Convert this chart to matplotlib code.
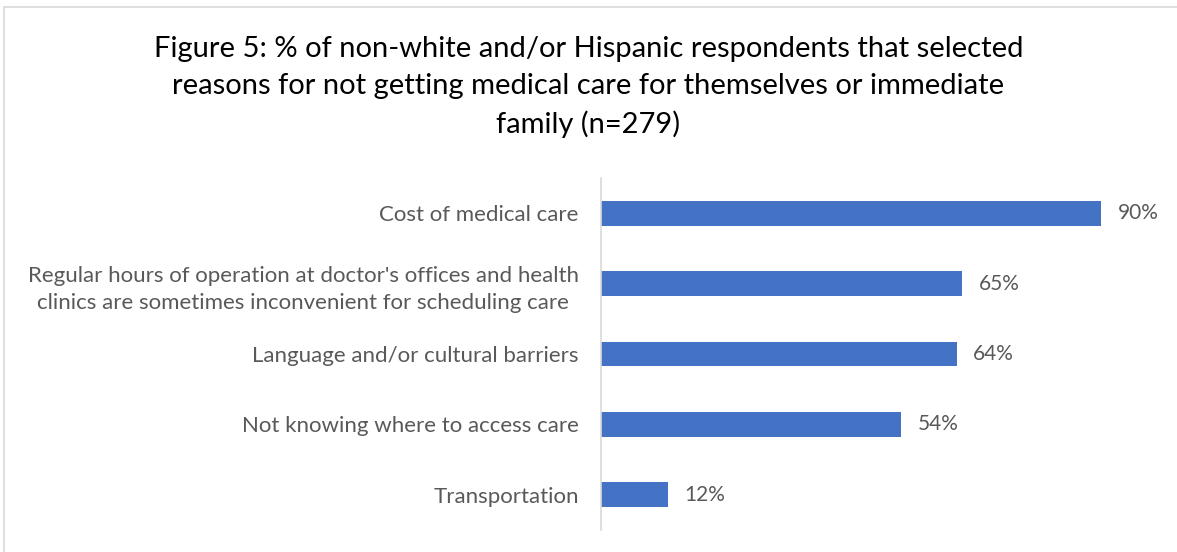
import matplotlib
matplotlib.use("Agg")
import matplotlib.pyplot as plt
from matplotlib.patches import Rectangle

plt.rcParams["font.family"] = ["Lato", "DejaVu Sans"]

title = ("Figure 5: % of non-white and/or Hispanic respondents that selected\n"
         "reasons for not getting medical care for themselves or immediate\n"
         "family (n=279)")
reasons = [
    "Cost of medical care",
    "Regular hours of operation at doctor's offices and health\n"
    "clinics are sometimes inconvenient for scheduling care",
    "Language and/or cultural barriers",
    "Not knowing where to access care",
    "Transportation",
]
percents = [90, 65, 64, 54, 12]

bar_color = "#4472C4"
text_gray = "#595959"
line_gray = "#D9D9D9"

fig = plt.figure(figsize=(11.77, 5.52), dpi=100)

# chart frame
fig.patches.append(Rectangle((4 / 1177, -0.1), 1.2, 1.1 - 7 / 552,
                             transform=fig.transFigure, fill=False,
                             edgecolor=line_gray, linewidth=1.2))

ax = fig.add_axes([601 / 1177, 22 / 552, 555.6 / 1177, 352 / 552])
ypos = list(range(len(reasons)))
ax.barh(ypos, percents, height=0.355, color=bar_color)
ax.set_xlim(0, 100)
ax.set_ylim(len(reasons) - 0.5, -0.5)

for y, v in zip(ypos, percents):
    ax.annotate(f"{v}%", (v, y), xytext=(12, 0), textcoords="offset points",
                ha="left", va="center", fontsize=15, color=text_gray)

ax.set_yticks(ypos)
ax.set_yticklabels(reasons, fontsize=16, color=text_gray, ha="right",
                   multialignment="center", linespacing=1.45)
ax.tick_params(axis="y", length=0, pad=16)
ax.set_xticks([])
for side in ["top", "right", "bottom"]:
    ax.spines[side].set_visible(False)
ax.spines["left"].set_color(line_gray)
ax.spines["left"].set_linewidth(1.2)

fig.text(0.5, 1 - 87 / 552, title, ha="center", va="center",
         fontsize=21, color="#000000", linespacing=1.5)

fig.savefig("out.png", dpi=100)
